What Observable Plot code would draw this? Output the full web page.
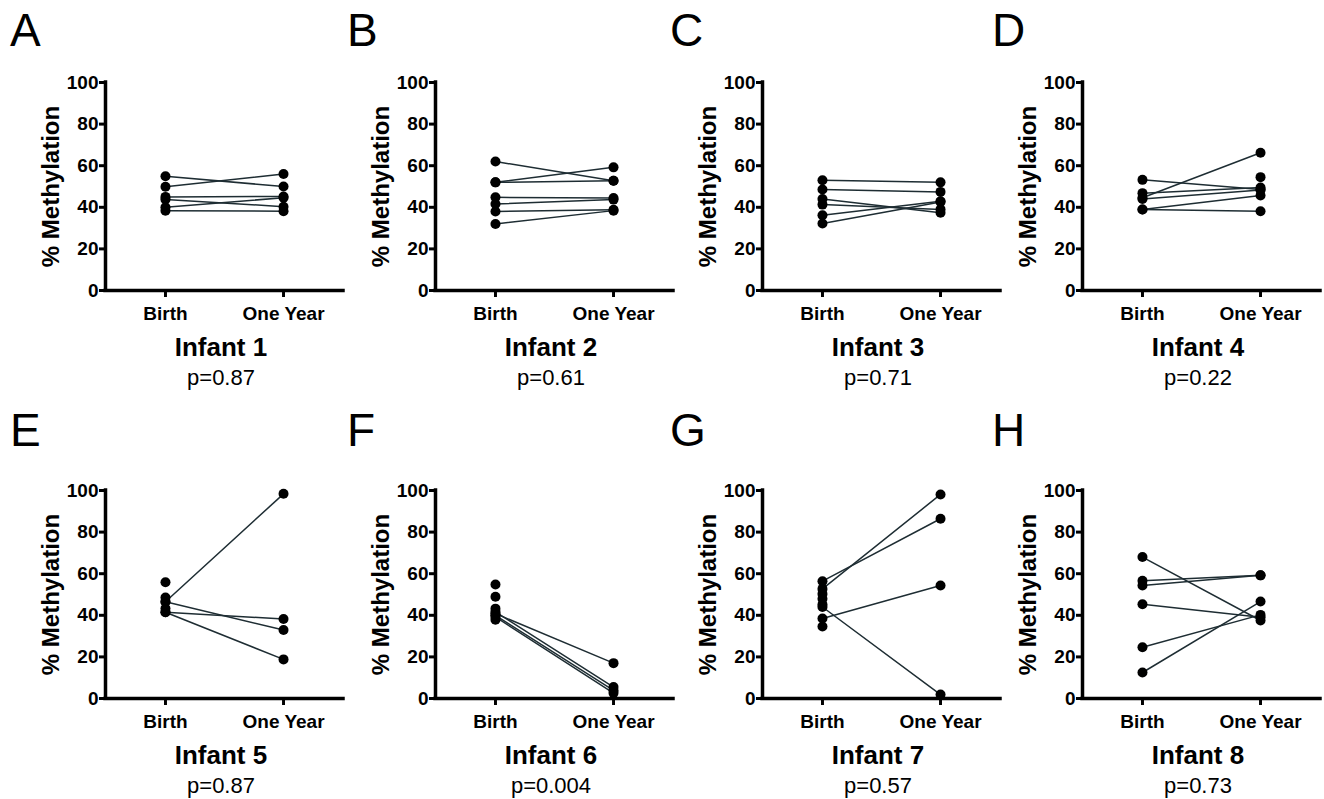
<!DOCTYPE html>
<html>
<head>
<meta charset="utf-8">
<script src="https://cdn.jsdelivr.net/npm/d3@7"></script>
<script src="https://cdn.jsdelivr.net/npm/@observablehq/plot@0.6"></script>
<style>
  body { margin: 0; background: #fff; }
  #fig { position: relative; width: 1324px; height: 799px; font-family: "Liberation Sans", Arial, sans-serif; color: #000; overflow: hidden; }
  .panel-svg { position: absolute; }
  .letter { position: absolute; font-size: 46px; line-height: 1; font-weight: normal; }
  .title { position: absolute; width: 200px; text-align: center; font-size: 26px; font-weight: bold; line-height: 1; }
  .pval { position: absolute; width: 200px; text-align: center; font-size: 22px; line-height: 1; }
  #fig svg g[aria-label="y-axis label"] text { font-size: 24px; font-weight: bold; }
  #fig svg g[aria-label="y-axis tick label"] text { font-size: 19px; font-weight: bold; }
  #fig svg g[aria-label="x-axis tick label"] text { font-size: 19px; font-weight: bold; }
</style>
</head>
<body>
<div id="fig"></div>
<script>
// ---------------- data ----------------
const panelLetters = ["A", "B", "C", "D", "E", "F", "G", "H"];
const infants = ["Infant 1", "Infant 2", "Infant 3", "Infant 4", "Infant 5", "Infant 6", "Infant 7", "Infant 8"];
const pValues = ["p=0.87", "p=0.61", "p=0.71", "p=0.22", "p=0.87", "p=0.004", "p=0.57", "p=0.73"];
const stages = ["Birth", "One Year"];
const yTicks = [0, 20, 40, 60, 80, 100];
const yLabel = "% Methylation";

// paired % methylation values per infant (same index = same site); null = no paired value
const birthValues = [
  [54.9, 49.9, 45.0, 43.8, 40.0, 38.4],
  [62.0, 52.0, 52.0, 44.8, 41.6, 38.0, 32.0],
  [53.0, 48.6, 44.0, 41.3, 36.2, 32.2],
  [53.2, 44.6, 46.8, 44.0, 38.9, 38.9, null],
  [46.5, 46.5, 41.5, 41.5, 55.9, 48.6, 43.3],
  [40.8, 41.6, 40.0, 39.2, 54.8, 48.9, 43.2, 37.9],
  [52.7, 56.4, 38.5, 44.0, 50.3, 47.9, 45.2, 34.6],
  [68.0, 56.6, 54.3, 45.3, 24.6, 12.5]
];
const oneYearValues = [
  [50.0, 56.0, 45.2, 40.3, 44.6, 38.1],
  [52.8, 59.2, 52.8, 44.5, 43.7, 38.8, 38.4],
  [52.0, 47.4, 37.4, 39.0, 42.9, 42.6],
  [48.5, 66.2, 49.5, 48.3, 45.7, 38.1, 54.5],
  [98.4, 32.9, 38.2, 18.8, null, null, null],
  [17.0, 5.5, 3.9, 2.6, null, null, null, null],
  [98.1, 86.4, 54.3, 1.9, null, null, null, null],
  [37.5, 59.2, 59.2, 39.1, 40.2, 46.6]
];

// ---------------- layout ----------------
const colAxisX = [105, 435, 762, 1082];   // page x of each column's y axis
const rowZeroY = [290, 698];              // page y of each row's zero line
const letterDx = [10, 17, 13, 15];
const letterTop = [7, 407];
const M = {left: 105, right: 2, top: 82, bottom: 50};
const W = 345, H = 340;
const xDomain = [-0.508, 1.508];

const fig = document.getElementById("fig");

infants.forEach((name, i) => {
  const col = i % 4, row = Math.floor(i / 4);
  const b = birthValues[i], o = oneYearValues[i];
  const points = [], lines = [];
  b.forEach((v, j) => {
    if (v != null) points.push({x: 0, value: v, pair: j});
    if (o[j] != null) points.push({x: 1, value: o[j], pair: j});
    if (v != null && o[j] != null) {
      lines.push({x: 0, value: v, pair: j});
      lines.push({x: 1, value: o[j], pair: j});
    }
  });

  const svg = Plot.plot({
    width: W, height: H,
    marginLeft: M.left, marginRight: M.right, marginTop: M.top, marginBottom: M.bottom,
    style: {fontFamily: '"Liberation Sans", Arial, sans-serif', fontWeight: "bold", fontSize: "18px", color: "#000", background: "transparent", overflow: "visible"},
    x: {domain: xDomain},
    y: {domain: [0, 100]},
    marks: [
      Plot.axisY({ticks: yTicks, tickFormat: d => String(d), tickSize: 6, tickPadding: 1, strokeWidth: 3,
        label: yLabel, labelAnchor: "center", labelOffset: 64, labelArrow: "none", fontSize: 19, fontWeight: "bold"}),
      Plot.axisX({ticks: [0, 1], tickFormat: k => stages[k], tickSize: 7, tickPadding: 9, strokeWidth: 3,
        label: null, fontSize: 19, fontWeight: "bold"}),
      Plot.ruleY([0], {stroke: "#000", strokeWidth: 3.5, strokeLinecap: "square"}),
      Plot.ruleX([xDomain[0]], {stroke: "#000", strokeWidth: 3.5, strokeLinecap: "square"}),
      Plot.line(lines, {x: "x", y: "value", z: "pair", stroke: "#1e2d33", strokeWidth: 1.5}),
      Plot.dot(points, {x: "x", y: "value", r: 5, fill: "#000", stroke: "none"})
    ]
  });
  svg.classList.add("panel-svg");
  svg.style.left = (colAxisX[col] - M.left) + "px";
  svg.style.top = (rowZeroY[row] - (H - M.bottom)) + "px";
  fig.appendChild(svg);

  const letter = document.createElement("div");
  letter.className = "letter";
  letter.textContent = panelLetters[i];
  letter.style.left = (colAxisX[col] - M.left + letterDx[col]) + "px";
  letter.style.top = letterTop[row] + "px";
  fig.appendChild(letter);

  const cx = colAxisX[col] + 116;
  const t = document.createElement("div");
  t.className = "title";
  t.textContent = name;
  t.style.left = (cx - 100) + "px";
  t.style.top = (rowZeroY[row] + 44) + "px";
  fig.appendChild(t);

  const p = document.createElement("div");
  p.className = "pval";
  p.textContent = pValues[i];
  p.style.left = (cx - 100) + "px";
  p.style.top = (rowZeroY[row] + 77) + "px";
  fig.appendChild(p);
});
</script>
</body>
</html>
